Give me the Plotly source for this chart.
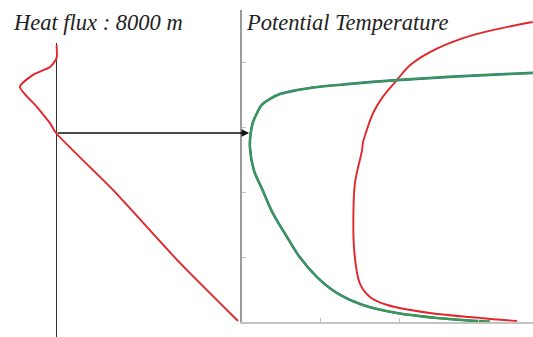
import plotly.graph_objects as go

# heat flux profile (left panel), height in km
flux_height = [11.72, 11.17, 10.79, 10.46, 9.95, 9.10, 8.42, 8.00, 5.59, 2.50, 0.04]
flux_value = [0.003, 0.003, -0.033, -0.126, -0.198, -0.104, -0.033, 0.0, 0.313, 0.681, 1.0]

# potential temperature profiles (right panel)
theta_a_height = [10.55, 10.41, 10.24, 10.07, 9.93, 9.82, 9.65, 9.44, 9.19, 8.85, 8.47, 8.00,
                  7.41, 6.43, 5.59, 4.61, 3.60, 2.75, 1.90, 1.23, 0.72, 0.38, 0.17, 0.01]
theta_a = [336.8, 328.0, 319.6, 313.3, 309.0, 307.0, 304.8, 303.5, 302.5, 301.9, 301.4, 301.1,
           301.0, 301.5, 302.6, 303.9, 305.7, 307.3, 309.5, 312.0, 315.3, 319.6, 324.7, 331.4]

theta_b_height = [12.70, 12.40, 12.02, 11.43, 10.88, 10.24, 9.52, 8.85, 8.13, 7.58, 7.28, 5.88,
                  4.44, 3.05, 1.65, 1.06, 0.72, 0.38, 0.17, 0.04]
theta_b = [336.8, 332.3, 328.0, 323.8, 321.3, 319.6, 317.8, 316.6, 315.8, 315.3, 315.2, 314.3,
           314.1, 314.2, 314.9, 316.2, 318.4, 323.8, 330.1, 334.8]

level_km = 8.0
RED = "#e2262b"
GREEN = "#3a9c45"

fig = go.Figure()
fig.add_trace(go.Scatter(x=flux_value, y=flux_height, mode="lines",
                         line=dict(color=RED, width=1.9, shape="spline", smoothing=0.6),
                         xaxis="x", yaxis="y"))
fig.add_trace(go.Scatter(x=theta_b, y=theta_b_height, mode="lines",
                         line=dict(color=RED, width=1.9, shape="spline"),
                         xaxis="x2", yaxis="y2"))
fig.add_trace(go.Scatter(x=theta_a, y=theta_a_height, mode="lines",
                         line=dict(color="#2f6fa8", width=2.6, shape="spline"),
                         xaxis="x2", yaxis="y2"))
fig.add_trace(go.Scatter(x=theta_a, y=theta_a_height, mode="lines",
                         line=dict(color=GREEN, width=1.9, shape="spline"),
                         xaxis="x2", yaxis="y2"))

title_font = dict(family="Liberation Serif", size=22.5, color="#222222")
fig.add_annotation(text="<i>Heat flux : 8000 m</i>", xref="paper", yref="paper",
                   x=13 / 533, y=1 - 22 / 337, xanchor="left", yanchor="middle",
                   xshift=-2, showarrow=False, font=title_font)
fig.add_annotation(text="<i>Potential Temperature</i>", xref="paper", yref="paper",
                   x=246 / 533, y=1 - 22 / 337, xanchor="left", yanchor="middle",
                   xshift=-2, showarrow=False, font=title_font)

# arrow from zero flux at 8000 m to the profile
fig.add_annotation(x=300.9, y=level_km, xref="x2", yref="y2",
                   ax=-193, ay=0, axref="pixel", ayref="pixel",
                   showarrow=True, arrowhead=2, arrowsize=1, arrowwidth=1.5,
                   arrowcolor="#111111", standoff=0, text="")

fig.update_layout(
    width=533, height=337,
    margin=dict(l=0, r=0, t=0, b=0),
    paper_bgcolor="white", plot_bgcolor="white",
    showlegend=False,
    xaxis=dict(domain=[0, 241 / 533], range=[-0.3077, 1.0165], showgrid=False,
               showticklabels=False, ticks="", zeroline=True, zerolinecolor="#333333",
               zerolinewidth=1),
    yaxis=dict(domain=[0, 294 / 337], range=[-0.635, 11.81], showgrid=False,
               showticklabels=False, zeroline=False, ticks=""),
    xaxis2=dict(domain=[242 / 533, 1.0], range=[300, 336.84], anchor="y2",
                showgrid=False, zeroline=False, showticklabels=False,
                showline=True, linecolor="#c4c4c4", linewidth=2,
                ticks="inside", ticklen=4, tickcolor="#c4c4c4", dtick=10, tick0=300),
    yaxis2=dict(domain=[15 / 337, 327 / 337], range=[0, 13.21], anchor="x2",
                showgrid=False, zeroline=False, showticklabels=False,
                showline=True, linecolor="#9a9a9a", linewidth=2,
                ticks="inside", ticklen=4, tickcolor="#c4c4c4", dtick=2.75, tick0=0),
)

fig.write_html("out.html", config={"displayModeBar": False},
               post_script="document.body.style.margin='0';")
